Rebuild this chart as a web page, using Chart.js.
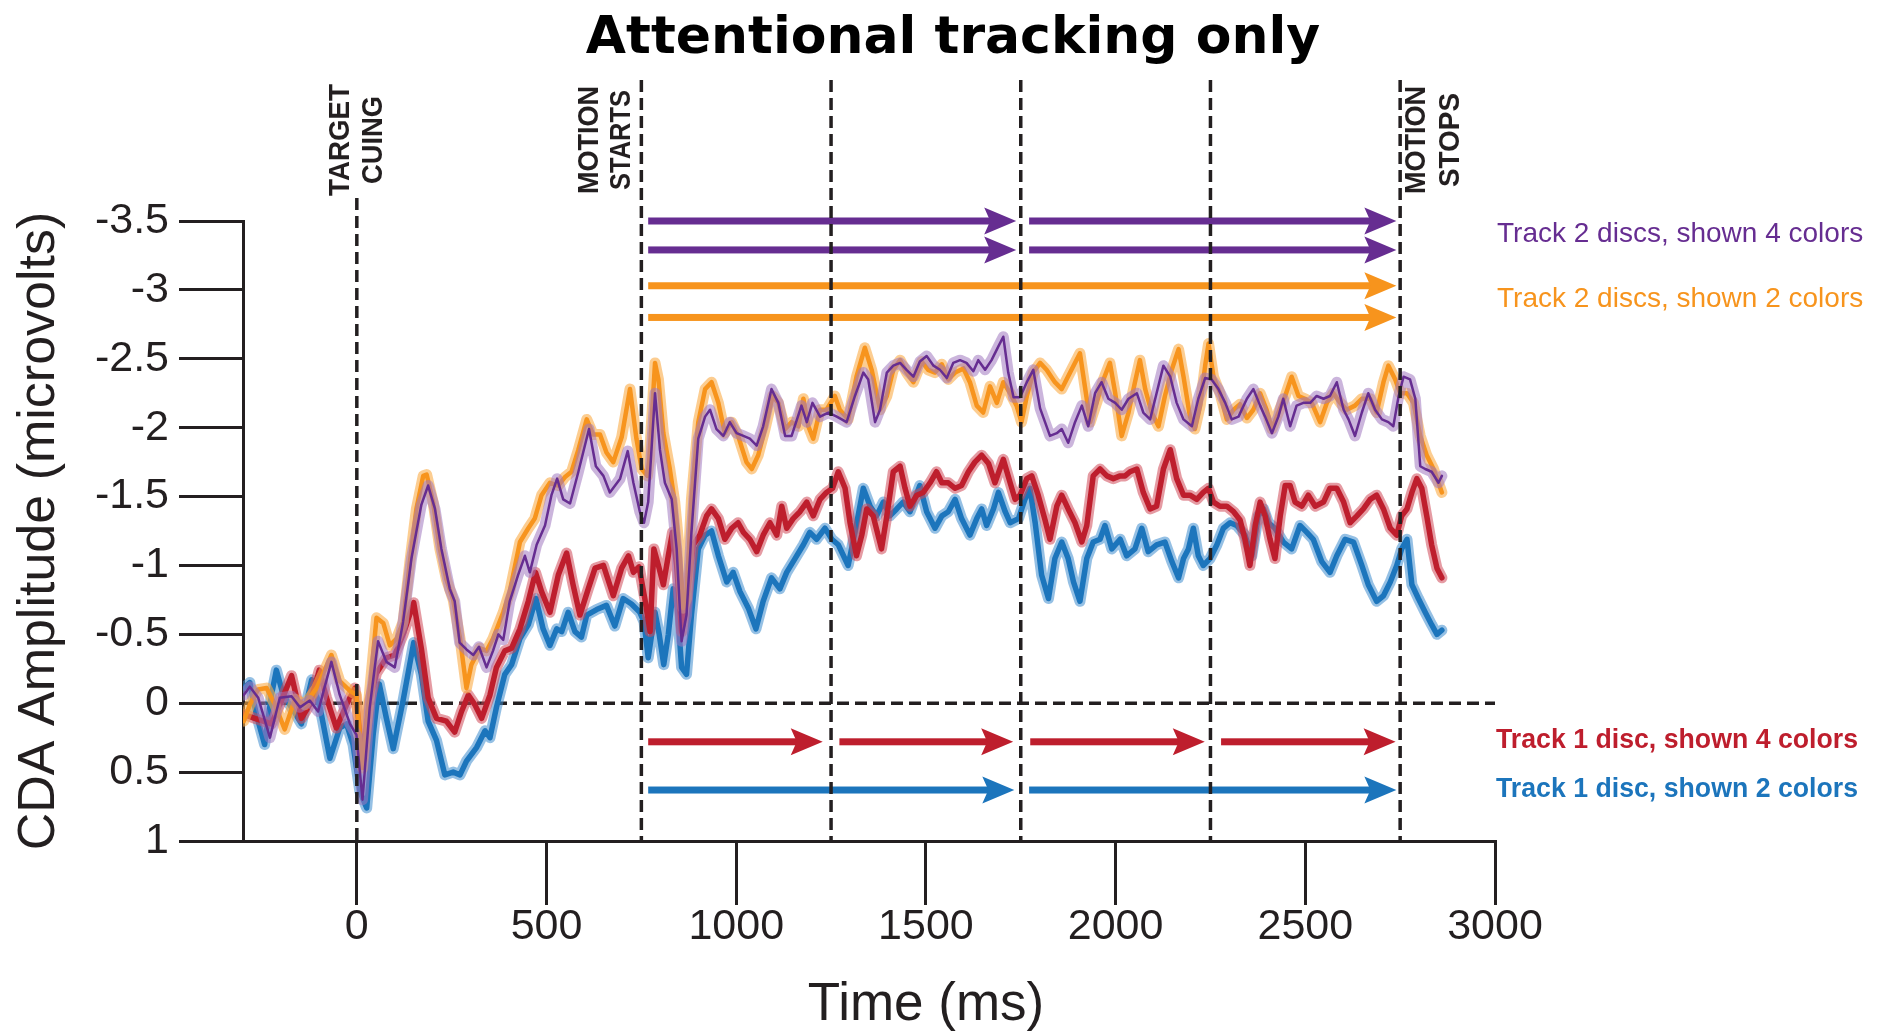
<!DOCTYPE html>
<html>
<head>
<meta charset="utf-8">
<title>Attentional tracking only</title>
<script src="https://cdn.jsdelivr.net/npm/chart.js@4.4.1/dist/chart.umd.min.js"></script>
<style>
  html, body { margin: 0; padding: 0; background: #fff; }
  canvas { display: block; }
</style>
</head>
<body>
<canvas id="cda" width="1888" height="1031"></canvas>
<script>
// ---- data (time in ms, CDA amplitude in microvolts) ----
const xTicks = [0, 500, 1000, 1500, 2000, 2500, 3000];
const yTicks = [-3.5, -3, -2.5, -2, -1.5, -1, -0.5, 0, 0.5, 1];
const eventTimes = [0, 750, 1250, 1750, 2250, 2750];
const eventLabels = [['TARGET', 'CUING'], ['MOTION', 'STARTS'], ['MOTION', 'STOPS']];
const seriesNames = ['Track 2 discs, shown 4 colors', 'Track 2 discs, shown 2 colors',
                     'Track 1 disc, shown 4 colors', 'Track 1 disc, shown 2 colors'];

const purpleT = [-298,-282,-260,-229,-203,-172,-150,-124,-102,-67,-45,-18,-1,15,34,56,78,100,122,144,170,188,206,223,245,
  258,271,289,307,322,342,359,373,386,403,425,443,456,474,496,513,528,544,562,584,612,630,650,667,694,714,729,746,
  757,768,786,799,812,830,843,856,869,882,900,918,931,948,966,983,1001,1019,1036,1054,1071,1093,1111,1129,1146,1172,1186,1201,1221,1243,1265,
  1291,1313,1335,1348,1366,1379,1397,1414,1432,1449,1467,1484,1502,1520,1537,1555,1572,1590,1607,1625,1638,1656,1673,1691,1704,1717,1731,1748,1766,1783,1801,
  1814,1827,1845,1858,1875,1893,1911,1928,1946,1963,1981,1999,2016,2034,2056,2073,2091,2108,2126,2144,2161,2179,2201,2218,2236,2253,2271,2289,2306,2324,
  2346,2363,2381,2394,2412,2429,2442,2460,2477,2495,2513,2530,2548,2565,2583,2601,2614,2631,2649,2666,2684,2702,2719,2732,2746,2759,2776,2790,2803,2816,2833,2851,2860];
const purpleV = [-0.06,-0.12,-0.04,0.25,-0.04,-0.05,0.03,-0.02,0.06,-0.30,-0.06,0.15,0.23,0.70,0.03,-0.45,-0.30,-0.26,-0.59,-1.05,-1.44,-1.58,-1.41,-1.12,-0.83,
  -0.74,-0.44,-0.39,-0.35,-0.41,-0.26,-0.38,-0.50,-0.46,-0.74,-0.93,-1.07,-0.95,-1.15,-1.29,-1.51,-1.63,-1.48,-1.45,-1.68,-1.99,-1.72,-1.65,-1.53,-1.63,-1.83,-1.60,-1.39,
  -1.31,-1.46,-2.25,-1.84,-1.60,-1.48,-1.12,-0.45,-0.64,-1.24,-1.92,-2.08,-2.13,-1.99,-1.94,-2.04,-1.96,-1.94,-1.92,-1.87,-2.01,-2.28,-2.18,-1.94,-1.94,-2.16,-2.04,-2.18,-2.08,-2.11,-2.08,
  -2.04,-2.23,-2.40,-2.35,-2.04,-2.13,-2.40,-2.45,-2.47,-2.42,-2.37,-2.48,-2.52,-2.45,-2.42,-2.36,-2.47,-2.49,-2.47,-2.41,-2.49,-2.42,-2.49,-2.59,-2.66,-2.40,-2.22,-2.22,-2.33,-2.42,-2.14,
  -2.04,-1.94,-1.96,-1.99,-1.89,-2.04,-2.16,-2.01,-2.25,-2.33,-2.21,-2.18,-2.13,-2.21,-2.25,-2.11,-2.06,-2.25,-2.45,-2.37,-2.18,-2.06,-2.01,-2.21,-2.36,-2.35,-2.28,-2.18,-2.06,-2.08,
  -2.21,-2.28,-2.16,-2.08,-1.96,-2.08,-2.21,-2.01,-2.16,-2.18,-2.18,-2.23,-2.21,-2.23,-2.33,-2.13,-2.06,-1.94,-2.11,-2.25,-2.13,-2.06,-2.04,-2.01,-2.23,-2.37,-2.35,-2.21,-1.72,-1.70,-1.68,-1.60,-1.65];

const orangeT = [-298,-282,-260,-238,-216,-190,-163,-137,-106,-67,-45,-18,-1,15,34,52,70,87,105,122,140,157,175,184,201,219,236,254,
  272,289,302,324,342,359,386,403,430,452,469,487,509,531,548,566,584,606,623,641,658,676,698,720,737,751,766,
  771,786,795,808,825,838,852,860,869,882,900,918,935,953,970,988,1005,1027,1041,1058,1076,1096,1111,1129,1146,1164,1177,1190,1203,1221,1238,1260,
  1273,1295,1317,1339,1357,1379,1397,1414,1432,1449,1467,1489,1506,1524,1542,1559,1577,1599,1616,1634,1651,1669,1687,1704,1722,1739,1752,1766,1783,1801,
  1818,1840,1858,1880,1906,1919,1933,1950,1968,1985,1999,2016,2034,2051,2064,2078,2095,2113,2130,2148,2166,2179,2196,2209,2223,2236,2245,2258,2275,2293,2311,
  2328,2346,2363,2381,2398,2412,2429,2447,2464,2482,2499,2517,2539,2557,2574,2592,2609,2631,2649,2671,2688,2706,2719,2737,2750,2768,2785,2803,2820,2838,2851,2860];
const orangeV = [0.13,0.01,-0.10,-0.11,0.01,0.19,-0.03,0.01,-0.11,-0.35,-0.16,-0.09,-0.06,0.47,-0.09,-0.62,-0.58,-0.42,-0.47,-0.59,-1.03,-1.41,-1.65,-1.66,-1.46,-1.12,-0.90,-0.75,
  -0.47,-0.11,-0.28,-0.40,-0.38,-0.47,-0.66,-0.81,-1.17,-1.27,-1.34,-1.51,-1.60,-1.58,-1.64,-1.68,-1.84,-2.06,-1.95,-1.95,-1.82,-1.75,-1.93,-2.28,-1.92,-1.70,-1.65,
  -1.77,-2.47,-2.35,-1.96,-1.70,-1.46,-1.05,-0.69,-0.76,-1.48,-2.04,-2.28,-2.33,-2.18,-1.96,-2.04,-1.94,-1.75,-1.70,-1.80,-1.99,-2.23,-2.18,-1.99,-2.04,-2.01,-2.21,-2.01,-1.92,-2.13,-2.13,-2.23,
  -2.13,-2.06,-2.37,-2.58,-2.42,-2.13,-2.23,-2.42,-2.49,-2.40,-2.33,-2.48,-2.42,-2.40,-2.46,-2.35,-2.40,-2.43,-2.33,-2.16,-2.11,-2.30,-2.18,-2.33,-2.25,-2.16,-2.04,-2.23,-2.40,-2.47,
  -2.42,-2.33,-2.28,-2.40,-2.54,-2.30,-2.04,-2.18,-2.35,-2.47,-2.25,-1.94,-2.11,-2.33,-2.49,-2.28,-2.11,-2.01,-2.23,-2.42,-2.57,-2.37,-2.08,-1.99,-2.16,-2.45,-2.61,-2.37,-2.25,-2.06,-2.13,
  -2.17,-2.07,-2.13,-2.25,-2.13,-1.99,-2.11,-2.23,-2.37,-2.23,-2.21,-2.18,-2.04,-2.18,-2.25,-2.18,-2.13,-2.16,-2.21,-2.21,-2.11,-2.33,-2.45,-2.35,-2.25,-2.25,-2.18,-1.94,-1.80,-1.70,-1.60,-1.53];

const redT = [-298,-269,-225,-203,-172,-146,-124,-99,-80,-54,-27,-5,15,34,52,78,100,122,150,170,188,210,
  236,258,276,294,311,329,351,368,390,408,430,452,471,487,509,531,553,570,588,610,628,650,676,698,716,729,744,
  759,773,783,795,808,821,832,843,856,869,887,904,922,935,953,970,988,1005,1019,1036,1054,1071,1089,1107,1120,1133,1150,1168,1186,1203,1221,1238,1254,1269,
  1287,1300,1317,1331,1344,1361,1383,1397,1414,1432,1445,1458,1476,1493,1511,1528,1542,1559,1577,1594,1612,1629,1647,1665,1682,1704,1722,1735,1748,1766,1779,1796,
  1814,1827,1845,1858,1875,1893,1911,1924,1941,1959,1977,1994,2012,2025,2038,2056,2073,2091,2108,2126,2144,2161,2179,2196,2214,2231,2245,2258,2275,2293,2311,
  2328,2341,2354,2368,2381,2394,2407,2420,2434,2447,2460,2473,2491,2508,2526,2548,2565,2583,2601,2618,2636,2653,2671,2688,2706,2724,2741,2754,2768,2781,2794,2807,2820,2833,2847,2860];
const redV = [0.08,0.11,0.15,0.01,-0.20,0.11,0.01,-0.24,-0.04,0.18,0.01,-0.11,0.40,-0.02,-0.22,-0.33,-0.35,-0.50,-0.73,-0.40,-0.04,0.11,
  0.13,0.21,0.06,-0.06,0.01,0.11,-0.06,-0.26,-0.38,-0.40,-0.54,-0.74,-0.95,-0.81,-0.66,-0.93,-1.09,-0.86,-0.64,-0.83,-0.98,-1.00,-0.78,-0.98,-1.07,-0.95,-0.99,
  -0.76,-0.52,-1.12,-1.00,-0.86,-1.07,-1.24,-1.00,-0.52,-0.74,-1.15,-1.22,-1.36,-1.41,-1.34,-1.19,-1.27,-1.31,-1.24,-1.19,-1.10,-1.22,-1.31,-1.22,-1.43,-1.27,-1.34,-1.39,-1.46,-1.36,-1.48,-1.53,-1.56,-1.68,
  -1.56,-1.31,-1.07,-1.22,-1.41,-1.36,-1.12,-1.36,-1.68,-1.72,-1.56,-1.43,-1.51,-1.53,-1.60,-1.68,-1.60,-1.60,-1.56,-1.58,-1.68,-1.75,-1.80,-1.74,-1.60,-1.77,-1.60,-1.48,-1.51,-1.63,-1.65,-1.51,
  -1.33,-1.19,-1.43,-1.51,-1.41,-1.31,-1.17,-1.29,-1.65,-1.70,-1.65,-1.63,-1.65,-1.65,-1.68,-1.70,-1.53,-1.41,-1.43,-1.70,-1.84,-1.63,-1.51,-1.51,-1.48,-1.53,-1.56,-1.46,-1.43,-1.43,-1.39,
  -1.33,-1.19,-1.00,-1.29,-1.46,-1.36,-1.19,-1.05,-1.36,-1.58,-1.58,-1.46,-1.43,-1.51,-1.43,-1.46,-1.56,-1.56,-1.46,-1.31,-1.36,-1.41,-1.48,-1.51,-1.41,-1.27,-1.22,-1.36,-1.41,-1.53,-1.63,-1.56,-1.36,-1.15,-0.98,-0.91];

const blueT = [-298,-282,-265,-243,-225,-212,-194,-172,-146,-119,-97,-71,-45,-27,-10,8,26,43,59,78,96,122,150,170,188,210,232,
  254,272,289,316,338,351,368,390,408,430,452,472,491,509,527,540,557,575,592,606,632,658,680,702,724,746,
  757,768,786,797,809,821,834,845,856,869,882,900,918,935,953,975,992,1010,1032,1052,1071,1093,1115,1133,1155,1177,1194,1212,1234,1252,1269,
  1295,1313,1335,1353,1370,1388,1405,1423,1440,1458,1484,1502,1524,1542,1559,1577,1594,1616,1634,1647,1660,1678,1691,1709,1722,1744,1761,1774,1788,1805,
  1823,1840,1858,1875,1889,1906,1924,1941,1959,1972,1990,2012,2029,2051,2069,2086,2108,2130,2148,2166,2179,2192,2205,2218,2231,2249,2267,2284,2302,2319,
  2341,2359,2376,2390,2403,2420,2442,2464,2486,2504,2521,2543,2565,2583,2605,2627,2649,2666,2688,2706,2724,2741,2754,2768,2781,2798,2816,2833,2847,2860];
const blueV = [-0.11,-0.15,0.08,0.30,-0.06,-0.24,-0.06,0.03,0.15,-0.17,0.03,0.40,0.18,0.15,0.30,0.64,0.76,0.23,-0.14,0.11,0.33,-0.02,-0.44,-0.21,0.13,0.27,0.52,
  0.50,0.52,0.42,0.32,0.20,0.25,0.03,-0.21,-0.28,-0.47,-0.57,-0.76,-0.54,-0.42,-0.54,-0.52,-0.66,-0.52,-0.48,-0.64,-0.68,-0.71,-0.56,-0.76,-0.72,-0.66,
  -0.59,-0.33,-0.66,-0.50,-0.28,-0.50,-0.83,-0.69,-0.26,-0.21,-0.64,-1.12,-1.22,-1.25,-1.07,-0.88,-0.95,-0.81,-0.69,-0.54,-0.74,-0.91,-0.83,-0.95,-1.05,-1.15,-1.24,-1.19,-1.27,-1.19,-1.15,
  -1.00,-1.24,-1.56,-1.43,-1.36,-1.46,-1.36,-1.41,-1.46,-1.39,-1.58,-1.39,-1.27,-1.36,-1.39,-1.48,-1.34,-1.22,-1.34,-1.41,-1.29,-1.41,-1.53,-1.39,-1.31,-1.34,-1.48,-1.56,-1.31,-0.93,
  -0.76,-1.05,-1.17,-1.05,-0.88,-0.74,-1.05,-1.17,-1.19,-1.29,-1.12,-1.19,-1.07,-1.12,-1.27,-1.10,-1.15,-1.17,-1.03,-0.91,-1.05,-1.12,-1.27,-1.07,-1.00,-1.05,-1.15,-1.27,-1.31,-1.29,
  -1.22,-1.07,-1.36,-1.41,-1.31,-1.27,-1.17,-1.12,-1.29,-1.24,-1.19,-1.03,-0.95,-1.07,-1.19,-1.17,-1.00,-0.86,-0.74,-0.78,-0.88,-1.00,-1.12,-1.19,-0.86,-0.76,-0.66,-0.57,-0.50,-0.53];

// arrows: rows at y values, segments as [start, tip] in ms
const purpleArrowRows = [-3.5, -3.29];
const purpleArrowSegs = [[768, 1738], [1772, 2740]];
const orangeArrowRows = [-3.03, -2.8];
const orangeArrowSegs = [[768, 2740]];
const redArrowRows = [0.28];
const redArrowSegs = [[768, 1228], [1272, 1730], [1775, 2235], [2278, 2738]];
const blueArrowRows = [0.63];
const blueArrowSegs = [[768, 1733], [1772, 2740]];

// ---- styling ----
const INK = '#231f20';
const SANS = '"Liberation Sans", Arial, Helvetica, sans-serif';
const PURPLE = '#662d91', ORANGE = '#f7941d', RED = '#be1e2d', BLUE = '#1c75bc';

function seriesSets(name, T, V, color, band, width, order) {
  const pts = T.map((t, i) => ({ x: t, y: V[i] }));
  const common = { data: pts, pointRadius: 0, tension: 0, fill: false,
                   borderJoinStyle: 'round', borderCapStyle: 'round' };
  return [
    Object.assign({ label: name, borderColor: color, borderWidth: width, order: order }, common),
    Object.assign({ label: name + ' (band)', borderColor: band, borderWidth: 11, order: order + 1 }, common)
  ];
}

const datasets = [].concat(
  seriesSets(seriesNames[0], purpleT, purpleV, PURPLE, 'rgba(160,120,192,0.55)', 2.5, 0),
  seriesSets(seriesNames[1], orangeT, orangeV, ORANGE, 'rgba(250,172,72,0.6)', 4.5, 2),
  seriesSets(seriesNames[2], redT, redV, RED, 'rgba(208,72,88,0.55)', 5.5, 4),
  seriesSets(seriesNames[3], blueT, blueV, BLUE, 'rgba(62,140,205,0.55)', 5.5, 6)
);

function drawArrow(ctx, x1, x2, y, color) {
  const headL = 32, headH = 27, notch = 6, shaft = 7;
  ctx.fillStyle = color;
  ctx.fillRect(x1, y - shaft / 2, (x2 - headL + notch + 2) - x1, shaft);
  ctx.beginPath();
  ctx.moveTo(x2, y);
  ctx.lineTo(x2 - headL, y - headH / 2);
  ctx.lineTo(x2 - headL + notch, y);
  ctx.lineTo(x2 - headL, y + headH / 2);
  ctx.closePath();
  ctx.fill();
}

function vText(ctx, text, cx, cy, maxLen) {
  ctx.save();
  ctx.translate(cx, cy);
  ctx.rotate(-Math.PI / 2);
  ctx.textAlign = 'center';
  ctx.textBaseline = 'middle';
  ctx.fillText(text, 0, 0, maxLen);
  ctx.restore();
}

const overlay = {
  id: 'overlay',
  beforeDatasetsDraw(chart) {
    const { ctx, chartArea: a, scales: { y } } = chart;
    const y0 = y.getPixelForValue(0);
    ctx.save();
    ctx.strokeStyle = INK; ctx.lineWidth = 3.5; ctx.setLineDash([12, 6]);
    ctx.beginPath(); ctx.moveTo(a.left, y0); ctx.lineTo(a.right, y0); ctx.stroke();
    ctx.restore();
  },
  afterDatasetsDraw(chart) {
    const { ctx, chartArea: a, scales: { x, y } } = chart;
    ctx.save();
    const groups = [
      [purpleArrowRows, purpleArrowSegs, PURPLE], [orangeArrowRows, orangeArrowSegs, ORANGE],
      [redArrowRows, redArrowSegs, RED], [blueArrowRows, blueArrowSegs, BLUE]
    ];
    groups.forEach(([rows, segs, color]) => {
      rows.forEach(r => segs.forEach(([s, e]) => {
        drawArrow(ctx, x.getPixelForValue(s), x.getPixelForValue(e), y.getPixelForValue(r), color);
      }));
    });
    // event markers
    ctx.strokeStyle = INK; ctx.lineWidth = 3.5; ctx.setLineDash([12, 6]);
    eventTimes.forEach((t, i) => {
      const px = x.getPixelForValue(t);
      ctx.beginPath();
      ctx.moveTo(px, i === 0 ? 198 : 80);
      ctx.lineTo(px, a.bottom);
      ctx.stroke();
    });
    ctx.restore();
  },
  afterDraw(chart) {
    const { ctx, scales: { x } } = chart;
    ctx.save();
    ctx.fillStyle = '#000';
    ctx.textAlign = 'center';
    ctx.textBaseline = 'alphabetic';
    ctx.font = 'bold 52px "DejaVu Sans", sans-serif';
    ctx.fillText('Attentional tracking only', 953, 53);

    ctx.fillStyle = INK;
    ctx.font = '53px ' + SANS;
    ctx.fillText('Time (ms)', 926, 1020);

    // event labels
    ctx.font = 'bold 30px ' + SANS;
    const p0 = x.getPixelForValue(eventTimes[0]);
    const p1 = x.getPixelForValue(eventTimes[1]);
    const p5 = x.getPixelForValue(eventTimes[5]);
    vText(ctx, eventLabels[0][0], p0 - 16, 140, 112);
    vText(ctx, eventLabels[0][1], p0 + 17, 140, 88);
    vText(ctx, eventLabels[1][0], p1 - 52, 140, 108);
    vText(ctx, eventLabels[1][1], p1 - 20, 140, 100);
    vText(ctx, eventLabels[2][0], p5 + 17, 140, 108);
    vText(ctx, eventLabels[2][1], p5 + 51, 140, 94);

    // series labels
    ctx.textAlign = 'left';
    ctx.font = '28px ' + SANS;
    ctx.fillStyle = PURPLE; ctx.fillText(seriesNames[0], 1497, 242);
    ctx.fillStyle = ORANGE; ctx.fillText(seriesNames[1], 1497, 307);
    ctx.font = 'bold 27px ' + SANS;
    ctx.fillStyle = RED; ctx.fillText(seriesNames[2], 1496, 748, 362);
    ctx.fillStyle = BLUE; ctx.fillText(seriesNames[3], 1496, 797, 362);
    ctx.restore();
  }
};

new Chart(document.getElementById('cda'), {
  type: 'line',
  data: { datasets: datasets },
  plugins: [overlay],
  options: {
    responsive: false,
    animation: false,
    devicePixelRatio: 1,
    layout: { padding: { left: 0, top: 221, right: 393, bottom: 0 } },
    plugins: { legend: { display: false }, tooltip: { enabled: false }, title: { display: false } },
    scales: {
      x: {
        type: 'linear', min: -300, max: 3000,
        afterBuildTicks: s => { s.ticks = xTicks.map(v => ({ value: v })); },
        afterFit: s => { s.height = 190; },
        grid: { drawOnChartArea: false, drawTicks: true, tickLength: 64, color: INK, lineWidth: 3 },
        border: { display: true, color: INK, width: 3 },
        ticks: { color: INK, font: { family: SANS, size: 43, lineHeight: 1 }, padding: 1,
                 maxRotation: 0, autoSkip: false, callback: v => String(v) }
      },
      y: {
        type: 'linear', min: -3.5, max: 1, reverse: true,
        afterBuildTicks: s => { s.ticks = yTicks.map(v => ({ value: v })); },
        afterFit: s => { s.width = 243; },
        grid: { drawOnChartArea: false, drawTicks: true, tickLength: 64, color: INK, lineWidth: 3 },
        border: { display: true, color: INK, width: 3 },
        ticks: { color: INK, font: { family: SANS, size: 43 }, padding: 10, callback: v => String(v) },
        title: { display: true, text: 'CDA Amplitude (microvolts)', color: INK,
                 font: { family: SANS, size: 52 }, padding: { top: 8, bottom: 0 } }
      }
    }
  }
});
</script>
</body>
</html>
